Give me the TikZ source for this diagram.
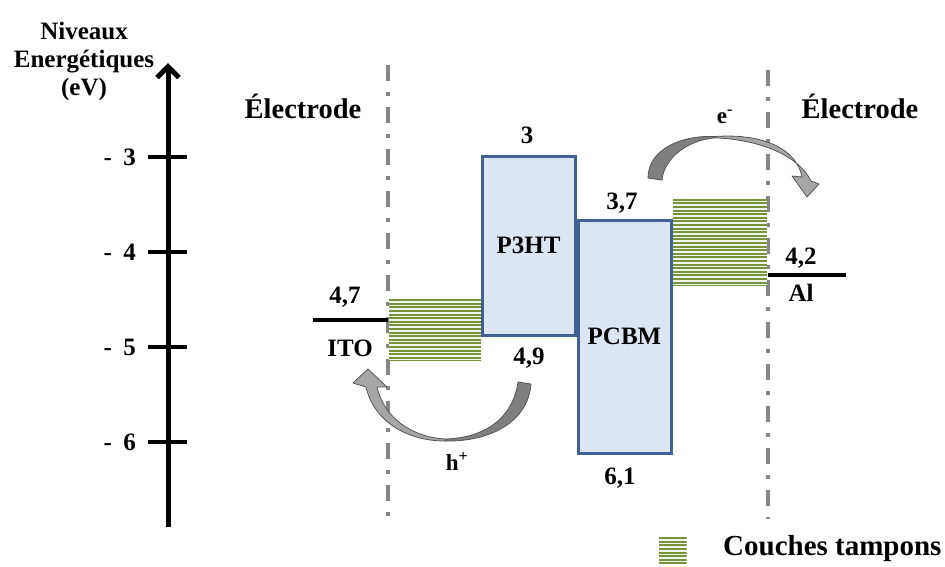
\documentclass[tikz,border=0pt]{standalone}
\usepackage{fontspec}
\setmainfont{Liberation Serif}
\usetikzlibrary{arrows.meta}
\definecolor{bandfill}{HTML}{DCE6F2}
\definecolor{bandline}{HTML}{3F6293}
\definecolor{hatchgreen}{HTML}{77933C}
\definecolor{hatchbg}{HTML}{F2F5EC}
\definecolor{sepgray}{HTML}{858585}
\definecolor{arrowdark}{HTML}{7F7F7F}
\definecolor{arrowlight}{HTML}{A6A6A6}
\definecolor{arrowedge}{HTML}{555555}
\begin{document}
\begin{tikzpicture}[x=1pt,y=-1pt,
  lbl/.style={font=\fontsize{25}{30}\selectfont\bfseries, inner sep=0pt},
  biglbl/.style={font=\fontsize{28.5}{32}\selectfont\bfseries, inner sep=0pt},
  carrier/.style={font=\fontsize{23}{27}\selectfont\bfseries, inner sep=0pt},
  bandbox/.style={draw=bandline, fill=bandfill, line width=3pt, inner sep=0pt,
     font=\fontsize{25}{30}\selectfont\bfseries},
  hatchbox/.style={fill=hatchbg, inner sep=0pt, outer sep=0pt,
     path picture={
       \foreach \k in {0,...,30}{
         \draw[hatchgreen, line width=2pt]
           ([yshift=-1.2pt-\k*3.6pt]path picture bounding box.north west) --
           ([yshift=-1.2pt-\k*3.6pt]path picture bounding box.north east);
       }}},
  sepline/.style={draw=sepgray, line width=4pt, dash pattern=on 16pt off 11pt on 4pt off 11pt},
  level/.style={draw=black, line width=4pt},
  blockdark/.style={fill=arrowdark, draw=arrowedge, line width=0.8pt, line join=round},
  blocklight/.style={fill=arrowlight, draw=arrowedge, line width=0.8pt, line join=round},
]
\useasboundingbox (0,0) rectangle (945,566);

% ---- energy axis ----
\coordinate (axbot) at (168,527);
\coordinate (axtop) at (168,63);
\draw[line width=5pt, -{Straight Barb[length=11pt,width=22pt]}] (axbot) -- (axtop);
\node[font=\fontsize{25}{28}\selectfont\bfseries, align=center, inner sep=0pt] (title) at (84,61)
  {Niveaux\\Energétiques\\(eV)};
\foreach \v/\y in {3/157,4/252,5/347,6/442}{
  \coordinate (t\v) at (168,\y);
  \draw[line width=4pt] ([xshift=-20pt]t\v) -- ([xshift=19pt]t\v);
  \node[lbl, anchor=east] (tl\v) at (136,\y) {-\hspace{0.45em}\v};
}

% ---- electrode separators ----
\coordinate (sl1) at (388,65);  \coordinate (sl2) at (388,516);
\coordinate (sr1) at (768,70);  \coordinate (sr2) at (768,519);
\draw[sepline] (sl1) -- (sl2);
\draw[sepline] (sr1) -- (sr2);
\node[biglbl] (eleft) at (303,106) {Électrode};
\node[biglbl] (eright) at (860,106) {Électrode};

% ---- electrode levels ----
\coordinate (ito1) at (313,320); \coordinate (ito2) at (388,320);
\draw[level] (ito1) -- (ito2);
\node[lbl] (v47) at (345,297) {4,7};
\node[lbl] (ito) at (350,348) {ITO};
\coordinate (al1) at (768,275); \coordinate (al2) at (846,275);
\draw[level] (al1) -- (al2);
\node[lbl] (v42) at (801,258) {4,2};
\node[lbl] (al) at (801,293) {Al};

% ---- buffer layers ----
\node[hatchbox, minimum width=92pt, minimum height=61pt] (buf1) at (435,329.5) {};
\node[hatchbox, minimum width=94pt, minimum height=87pt] (buf2) at (720,242) {};

% ---- organic bands ----
\node[bandbox, minimum width=93pt, minimum height=179pt] (p3ht) at (528.5,245.5) {P3HT};
\node[bandbox, minimum width=93pt, minimum height=233pt] (pcbm) at (624.5,336.5) {PCBM};
\node[lbl] (v3) at (527,135) {3};
\node[lbl] (v49) at (529,358) {4,9};
\node[lbl] (v37) at (622,203) {3,7};
\node[lbl] (v61) at (620,478) {6,1};

% ---- electron transfer arrow ----
\fill[blockdark] (648,178) .. controls (648,150) and (680,135) .. (715,136.5)
  -- (715,137.8) .. controls (688,140) and (664,158) .. (662,180) -- cycle;
\fill[blocklight] (715,136.5) .. controls (765,133) and (797,150) .. (802,177)
  -- (792,176) -- (807,197) -- (819,184) -- (811,181)
  .. controls (800,158) and (765,140) .. (715,137.8) -- cycle;
\node[carrier] (elec) at (725,117) {e\textsuperscript{-}};

% ---- hole transfer arrow ----
\fill[blockdark] (445,439) .. controls (485,438) and (513,418) .. (518,382)
  -- (531,384) .. controls (528,422) and (490,442) .. (445,441) -- cycle;
\fill[blocklight] (445,439) .. controls (412,437) and (384,418) .. (377,387)
  -- (387,387) -- (368,369) -- (353,383) -- (366,387)
  .. controls (374,422) and (408,441) .. (445,441) -- cycle;
\node[carrier] (hole) at (457,461) {h\textsuperscript{+}};

% ---- legend ----
\node[hatchbox, minimum width=28pt, minimum height=26pt] (legbox) at (672.5,550) {};
\node[biglbl, font=\fontsize{29}{32}\selectfont\bfseries, anchor=west] (legtxt) at (723,549) {Couches tampons};
\end{tikzpicture}
\end{document}
